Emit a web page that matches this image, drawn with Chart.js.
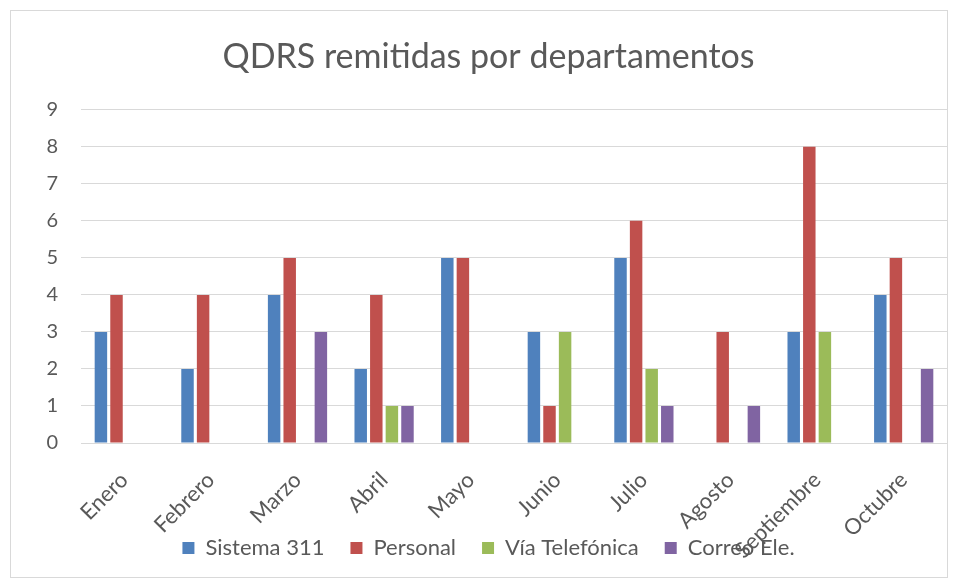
<!DOCTYPE html>
<html>
<head>
<meta charset="utf-8">
<script src="https://cdn.jsdelivr.net/npm/chart.js@4.4.0/dist/chart.umd.min.js"></script>
<style>
  html,body{margin:0;padding:0;background:#fff;}
  #wrap{position:relative;width:958px;height:580px;}
  #frame{position:absolute;left:10px;top:10px;width:938px;height:568px;border:1px solid #d9d9d9;box-sizing:border-box;}
  canvas{position:absolute;left:0;top:0;}
</style>
</head>
<body>
<div id="wrap">
  <div id="frame"></div>
  <canvas id="c" width="958" height="580"></canvas>
</div>
<script>
const categories = ["Enero","Febrero","Marzo","Abril","Mayo","Junio","Julio","Agosto","Septiembre","Octubre"];
const sistema311 = [3,2,4,2,5,3,5,0,3,4];
const personal   = [4,4,5,4,5,1,6,3,8,5];
const viaTelefonica = [0,0,0,1,0,3,2,0,3,0];
const correoEle  = [0,0,3,1,0,0,1,1,0,2];
const seriesNames = ["Sistema 311","Personal","Vía Telefónica","Correo Ele."];
const yTicks = [0,1,2,3,4,5,6,7,8,9];

const FONT = "Lato, 'Open Sans', sans-serif";
const colors = ["#4F81BD","#C0504D","#9BBB59","#8064A2"];
const seriesData = [sistema311, personal, viaTelefonica, correoEle];

// let rotated x labels overflow below the axis box (they overlap the legend in the reference)
const unclipXLabels = {
  id: 'unclipXLabels',
  afterLayout(chart) { chart.scales.x.bottom = chart.height; }
};

new Chart(document.getElementById('c'), {
  type: 'bar',
  data: {
    labels: categories,
    datasets: seriesData.map((d,i)=>({
      label: seriesNames[i],
      data: d,
      backgroundColor: colors[i],
      borderWidth: 0,
      categoryPercentage: 0.72,
      barPercentage: 0.8
    }))
  },
  plugins: [unclipXLabels],
  options: {
    responsive: false,
    animation: false,
    devicePixelRatio: 1,
    layout: { padding: { left: 30, right: 11, top: 0, bottom: 11 } },
    plugins: {
      title: {
        display: true,
        text: "QDRS remitidas por departamentos",
        color: "#595959",
        font: { family: FONT, size: 34, weight: 'normal' },
        padding: { top: 37, bottom: 32 }
      },
      legend: {
        position: 'bottom',
        labels: {
          color: "#595959",
          font: { family: FONT, size: 22 },
          boxWidth: 12, boxHeight: 12,
          padding: 26
        }
      },
      tooltip: { enabled: false }
    },
    scales: {
      y: {
        min: 0, max: 9,
        afterBuildTicks: s => { s.ticks = yTicks.map(v=>({value:v})); },
        afterFit: s => { s.width = 51; },
        ticks: { color: "#595959", font: { family: FONT, size: 20 }, padding: 23 },
        grid: { color: "#d9d9d9", lineWidth: 1, drawTicks: false },
        border: { display: false }
      },
      x: {
        afterFit: s => { s.height = 68; },
        ticks: { color: "#595959", font: { family: FONT, size: 22 }, maxRotation: 45, minRotation: 45, padding: 24 },
        grid: { display: false, drawTicks: false },
        border: { display: true, color: "#d9d9d9", width: 1 }
      }
    }
  }
});
</script>
</body>
</html>
